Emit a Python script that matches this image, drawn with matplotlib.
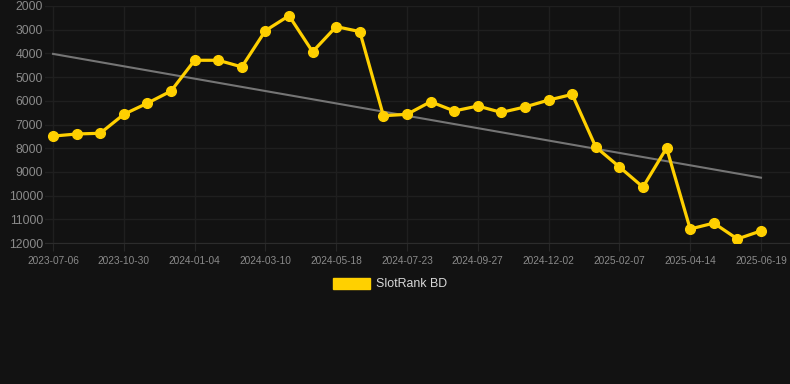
import matplotlib.pyplot as plt
from matplotlib.patches import Patch
import numpy as np

plt.rcParams['font.family'] = ['Liberation Sans', 'DejaVu Sans']

# Rank values (lower is better, axis inverted)
ranks = [7490, 7400, 7370, 6570, 6100, 5590, 4290, 4290, 4570, 3040,
         2410, 3930, 2870, 3080, 6630, 6570, 6040, 6430, 6220, 6490,
         6260, 5970, 5730, 7950, 8790, 9640, 7990, 11410, 11160, 11830,
         11490]
tick_labels = ['2023-07-06', '2023-10-30', '2024-01-04', '2024-03-10',
               '2024-05-18', '2024-07-23', '2024-09-27', '2024-12-02',
               '2025-02-07', '2025-04-14', '2025-06-19']
y_ticks = [2000, 3000, 4000, 5000, 6000, 7000, 8000, 9000, 10000, 11000, 12000]

bg = '#121212'
gold = '#FFD000'

x = np.arange(len(ranks))
slope, intercept = np.polyfit(x, ranks, 1)
trend = slope * x + intercept

fig = plt.figure(figsize=(7.9, 3.84), dpi=100, facecolor=bg)
ax = fig.add_axes([45 / 790, 1 - 243 / 384, 745 / 790, 237 / 384])
ax.set_facecolor(bg)

ax.plot(x, trend, color='#757575', linewidth=1.5, zorder=2)
ax.plot(x, ranks, color=gold, linewidth=2.3, marker='o', markersize=7, zorder=3)

ax.set_ylim(12000, 2000)
ax.set_xlim(-0.34, 31.23)
ax.set_yticks(y_ticks)
ax.set_xticks(x[::3])
ax.set_xticklabels(tick_labels)

ax.grid(True, color='#1f1f1f', linewidth=1)
for s in ['top', 'right', 'left']:
    ax.spines[s].set_visible(False)
ax.spines['bottom'].set_color('#2c2c2c')
ax.tick_params(axis='y', length=0, pad=1.5, labelsize=8.8, labelcolor='#8a8a8a')
ax.tick_params(axis='x', length=6, color='#262626', pad=3, labelsize=7.3, labelcolor='#8a8a8a')

fig.legend(handles=[Patch(color=gold, label='SlotRank BD')], loc='center',
           bbox_to_anchor=(390 / 790, 1 - 284 / 384), frameon=False,
           labelcolor='#d8d8d8', fontsize=8.9, handlelength=3.0, handleheight=1.0,
           handletextpad=0.5)

fig.savefig('out.png', dpi=100, facecolor=bg)
